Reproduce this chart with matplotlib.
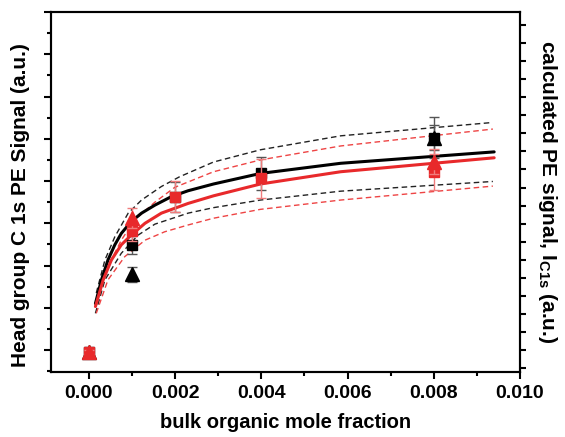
import matplotlib
matplotlib.use("Agg")
import matplotlib.pyplot as plt
from matplotlib.ticker import MultipleLocator, FormatStrFormatter, NullFormatter

plt.rcParams["font.family"] = ["Liberation Sans", "DejaVu Sans"]
plt.rcParams["font.weight"] = "bold"
plt.rcParams["mathtext.fontset"] = "custom"
plt.rcParams["mathtext.rm"] = "Liberation Sans:bold"
plt.rcParams["mathtext.it"] = "Liberation Sans:bold"
plt.rcParams["mathtext.bf"] = "Liberation Sans:bold"
plt.rcParams["mathtext.default"] = "rm"

# measured points (left axis, arbitrary units)
blk_sq_x = [0.0, 0.001, 0.002, 0.004, 0.008]
blk_sq_y = [-0.05, 2.49, 3.62, 4.18, 5.03]
blk_sq_err = [0.05, 0.21, 0.36, 0.40, 0.48]

blk_tri_x = [0.0, 0.001, 0.008]
blk_tri_y = [-0.05, 1.79, 5.03]
blk_tri_err = [0.05, 0.17, 0.30]

red_sq_x = [0.0, 0.001, 0.002, 0.004, 0.008]
red_sq_y = [-0.05, 2.82, 3.63, 4.06, 4.22]
red_sq_err = [0.05, 0.24, 0.36, 0.45, 0.43]

red_tri_x = [0.0, 0.001, 0.008]
red_tri_y = [-0.05, 3.12, 4.46]
red_tri_err = [0.05, 0.24, 0.30]

# calculated curves
blk_fit_x = [0.00015, 0.00029, 0.00044, 0.00060, 0.00075, 0.00098, 0.00122, 0.00153,
             0.00191, 0.00230, 0.00289, 0.00398, 0.00584, 0.00940]
blk_fit_y = [1.10, 1.66, 2.13, 2.49, 2.76, 3.04, 3.24, 3.43, 3.63, 3.77, 3.93, 4.18, 4.42, 4.69]

red_fit_x = [0.00015, 0.00033, 0.00052, 0.00075, 0.00098, 0.00130, 0.00168, 0.00230,
             0.00289, 0.00398, 0.00584, 0.00940]
red_fit_y = [1.03, 1.66, 2.13, 2.49, 2.72, 3.00, 3.24, 3.47, 3.65, 3.93, 4.22, 4.55]

blk_hi_x = [0.00017, 0.00037, 0.00060, 0.00091, 0.00122, 0.00168, 0.00210, 0.00289,
            0.00398, 0.00584, 0.00930]
blk_hi_y = [1.35, 2.13, 2.68, 3.24, 3.55, 3.87, 4.10, 4.45, 4.74, 5.07, 5.38]

red_hi_x = [0.00021, 0.00044, 0.00075, 0.00106, 0.00153, 0.00199, 0.00289, 0.00398,
            0.00584, 0.00937]
red_hi_y = [1.26, 1.97, 2.60, 3.08, 3.50, 3.85, 4.22, 4.50, 4.83, 5.23]

blk_lo_x = [0.00015, 0.00037, 0.00075, 0.00114, 0.00153, 0.00230, 0.00289, 0.00398,
            0.00584, 0.00937]
blk_lo_y = [0.87, 1.66, 2.29, 2.72, 2.98, 3.24, 3.37, 3.55, 3.76, 3.99]

red_lo_x = [0.00017, 0.00044, 0.00083, 0.00130, 0.00176, 0.00230, 0.00289, 0.00398,
            0.00584, 0.00937]
red_lo_y = [0.87, 1.66, 2.21, 2.60, 2.80, 2.96, 3.12, 3.33, 3.55, 3.88]

x_ticks = [0.000, 0.002, 0.004, 0.006, 0.008, 0.010]

black = "#000000"
red = "#e8292b"
red_light = "#f07c7c"
grey = "#555555"

fig = plt.figure(figsize=(5.65, 4.37), dpi=100)
ax = fig.add_axes([0.0903, 0.1487, 0.8301, 0.8238])
ax2 = ax.twinx()

dash = (0, (4, 2.5))
ax.plot(blk_hi_x, blk_hi_y, color="#222222", lw=1.0, ls=dash, zorder=2)
ax.plot(blk_lo_x, blk_lo_y, color="#222222", lw=1.0, ls=dash, zorder=2)
ax.plot(red_hi_x, red_hi_y, color="#ee4444", lw=1.0, ls=dash, zorder=2)
ax.plot(red_lo_x, red_lo_y, color="#ee4444", lw=1.0, ls=dash, zorder=2)
ax.plot(blk_fit_x, blk_fit_y, color=black, lw=2.2, zorder=3, solid_capstyle="round")
ax.plot(red_fit_x, red_fit_y, color=red, lw=2.2, zorder=3, solid_capstyle="round")

ax.errorbar(blk_tri_x, blk_tri_y, yerr=blk_tri_err, fmt="^", color=black, ms=9.5,
            ecolor=grey, elinewidth=1, capsize=3.5, capthick=1, zorder=4)
ax.errorbar(blk_sq_x, blk_sq_y, yerr=blk_sq_err, fmt="s", color=black, ms=7.5,
            ecolor=grey, elinewidth=1, capsize=3.5, capthick=1, zorder=4)
ax.errorbar(red_sq_x, red_sq_y, yerr=red_sq_err, fmt="s", color=red, ms=7.5,
            ecolor=red_light, elinewidth=1, capsize=3.5, capthick=1, zorder=5)
ax.errorbar(red_tri_x, red_tri_y, yerr=red_tri_err, fmt="^", color=red, ms=9.5,
            ecolor=red_light, elinewidth=1, capsize=3.5, capthick=1, zorder=6)

ax.set_xlim(-0.00088, 0.010)
ax.set_ylim(-0.52, 8.0)
ax2.set_ylim(-0.22, 19.72)

ax.set_xticks(x_ticks)
ax.xaxis.set_minor_locator(MultipleLocator(0.001))
ax.xaxis.set_major_formatter(FormatStrFormatter("%.3f"))
ax.yaxis.set_major_locator(MultipleLocator(1))
ax.yaxis.set_minor_locator(MultipleLocator(0.5))
ax.yaxis.set_major_formatter(NullFormatter())
ax2.yaxis.set_major_locator(MultipleLocator(1))
ax2.yaxis.set_major_formatter(NullFormatter())

ax.tick_params(axis="both", which="major", direction="out", length=5, width=1.5,
               labelsize=14, pad=4)
ax.tick_params(axis="both", which="minor", direction="out", length=3, width=1.5)
ax.tick_params(axis="x", top=False, which="both")
ax2.tick_params(axis="y", direction="out", length=4, width=1.5)
for lab in ax.get_xticklabels():
    lab.set_fontweight("bold")

for a in (ax, ax2):
    for spine in a.spines.values():
        spine.set_linewidth(1.5)

ax.set_xlabel("bulk organic mole fraction", fontsize=14.5, fontweight="bold", labelpad=8)
ax.set_ylabel("Head group C 1s PE Signal (a.u.)", fontsize=15, fontweight="bold")
ax.yaxis.set_label_coords(-0.045, 0.465)
ax2.set_ylabel("calculated PE signal, I$_{C1s}$ (a.u.)", fontsize=15, fontweight="bold",
               rotation=270, va="bottom", labelpad=4)

fig.savefig("out.png", dpi=100)
